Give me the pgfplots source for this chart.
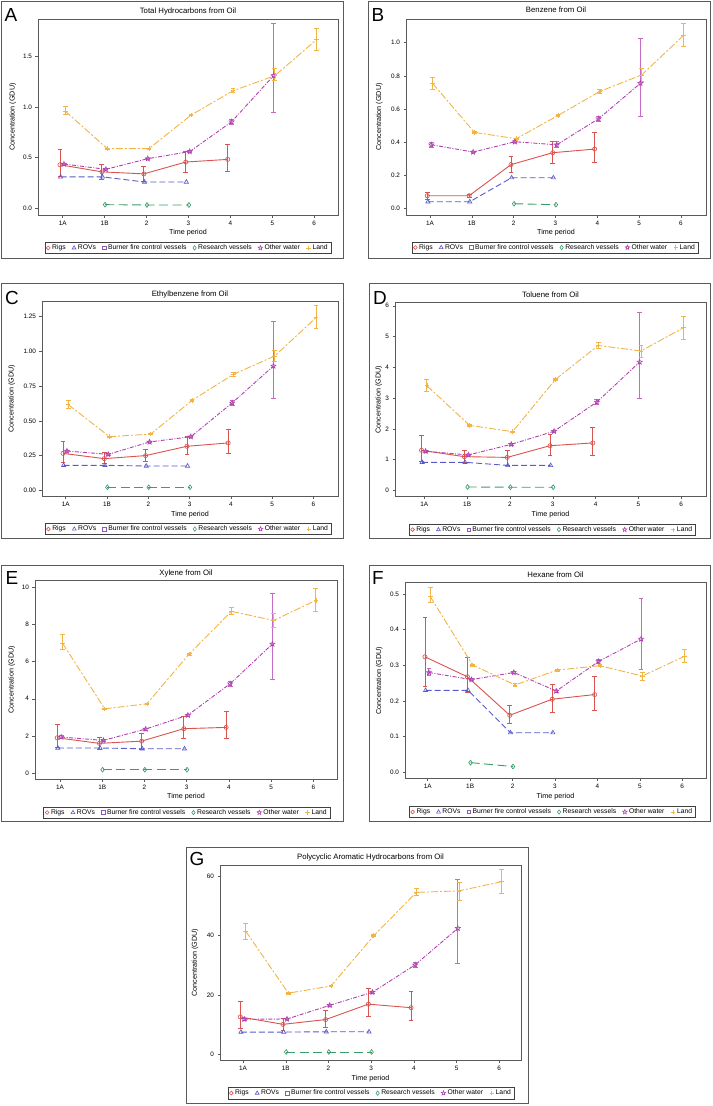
\documentclass[border=0pt]{standalone}
\usepackage{fontspec}
\setmainfont{Liberation Sans}
\usepackage{pgfplots}
\pgfplotsset{compat=1.18}
\usetikzlibrary{plotmarks}

\definecolor{cRigs}{HTML}{D9534F}
\definecolor{cROV}{HTML}{5A5AC8}
\definecolor{cBurn}{HTML}{8C5AB4}
\definecolor{cRes}{HTML}{3C9C6C}
\definecolor{cOth}{HTML}{B040B0}
\definecolor{cOthE}{HTML}{C46CC4}
\definecolor{cLand}{HTML}{F2B446}
\definecolor{cFrame}{HTML}{5A5A5A}

\pgfdeclareplotmark{ostar}{%
 \pgfpathmoveto{\pgfpointpolar{90}{\pgfplotmarksize}}%
 \pgfpathlineto{\pgfpointpolar{126}{0.45\pgfplotmarksize}}%
 \pgfpathlineto{\pgfpointpolar{162}{\pgfplotmarksize}}%
 \pgfpathlineto{\pgfpointpolar{198}{0.45\pgfplotmarksize}}%
 \pgfpathlineto{\pgfpointpolar{234}{\pgfplotmarksize}}%
 \pgfpathlineto{\pgfpointpolar{270}{0.45\pgfplotmarksize}}%
 \pgfpathlineto{\pgfpointpolar{306}{\pgfplotmarksize}}%
 \pgfpathlineto{\pgfpointpolar{342}{0.45\pgfplotmarksize}}%
 \pgfpathlineto{\pgfpointpolar{18}{\pgfplotmarksize}}%
 \pgfpathlineto{\pgfpointpolar{54}{0.45\pgfplotmarksize}}%
 \pgfpathclose\pgfusepathqstroke}

\newcommand{\tfont}{\fontsize{7.8}{9}\selectfont}
\newcommand{\lfont}{\fontsize{7.2}{8}\selectfont}
\newcommand{\Lfont}{\fontsize{19}{20}\selectfont}

\pgfplotsset{
  legend image code/.code={\draw[#1, only marks] plot coordinates {(2.6bp,0bp)};},
  table/errtab/.style={x expr=\thisrow{x}+#1, y=y, y error plus expr=\thisrow{hi}-\thisrow{y}, y error minus expr=\thisrow{y}-\thisrow{lo}, row sep=\\},
  table/plain/.style={x expr=\thisrow{x}+#1, y=y, row sep=\\},
  panel/.style={scale only axis, anchor=north west,
    axis line style={cFrame, line width=0.6bp},
    tick style={cFrame, line width=0.5bp},
    major tick length=2.5bp,
    tick align=outside, xtick pos=left, ytick pos=left,
    xtick={0,1,2,3,4,5,6}, xticklabels={1A,1B,2,3,4,5,6},
    tick label style={font=\fontsize{6.4}{7}\selectfont, text=black},
    legend columns=6, legend cell align=left,
    legend style={anchor=center, font=\fontsize{6.8}{7.5}\selectfont, draw=black!75, line width=0.5bp, inner xsep=1.5bp, inner ysep=0.5bp, /tikz/every even column/.append style={column sep=4.5bp}}},
  sRigs/.style={cRigs, line width=0.9bp, solid, mark=o, mark size=2.1bp, mark options={solid, line width=0.65bp}, forget plot,
    error bars/y dir=both, error bars/y explicit, error bars/error bar style={solid, line width=0.8bp},
    error bars/error mark options={solid, rotate=90, mark size=2.4bp, line width=0.8bp}},
  sROV/.style={cROV, line width=0.9bp, dash pattern=on 6bp off 3bp, mark=triangle, mark size=2.4bp, mark options={solid, line width=0.65bp}, forget plot},
  sRes/.style={cRes, line width=0.9bp, dash pattern=on 9bp off 4.5bp, mark=diamond, mark size=2.4bp, mark options={solid, line width=0.65bp}, forget plot},
  sOth/.style={cOth, line width=0.9bp, dash pattern=on 4bp off 1.5bp on 1bp off 1.5bp, mark=ostar, mark size=2.6bp, mark options={solid, line width=0.65bp}, forget plot,
    error bars/y dir=both, error bars/y explicit, error bars/error bar style={solid, cOthE, line width=1bp},
    error bars/error mark options={solid, rotate=90, cOthE, mark size=2.4bp, line width=0.9bp}},
  sLand/.style={cLand, line width=0.9bp, dash pattern=on 7bp off 2bp on 2bp off 2bp, mark=+, mark size=2.3bp, mark options={solid, line width=0.65bp}, forget plot,
    error bars/y dir=both, error bars/y explicit, error bars/error bar style={solid, line width=0.8bp},
    error bars/error mark options={solid, rotate=90, mark size=2.4bp, line width=0.8bp}},
}

\newcommand{\legendimages}{%
 \addlegendimage{cRigs, mark=o, mark size=1.9bp, line width=0.6bp}\addlegendentry{Rigs}
 \addlegendimage{cROV, mark=triangle, mark size=2.2bp, line width=0.6bp}\addlegendentry{ROVs}
 \addlegendimage{cBurn, mark=square, mark size=1.8bp, line width=0.6bp}\addlegendentry{Burner fire control vessels}
 \addlegendimage{cRes, mark=diamond, mark size=2.2bp, line width=0.6bp}\addlegendentry{Research vessels}
 \addlegendimage{cOth, mark=ostar, mark size=2.3bp, line width=0.6bp}\addlegendentry{Other water}
 \addlegendimage{cLand, mark=+, mark size=2.1bp, line width=0.6bp}\addlegendentry{Land}
}

\begin{document}
\begin{tikzpicture}
\useasboundingbox (0,0) rectangle (713bp,-1106bp);
\begin{scope}[cFrame, line width=0.7bp]
\draw (1bp,-1bp) rectangle (343bp,-258bp);
\draw (368bp,-1bp) rectangle (710bp,-258bp);
\draw (1bp,-283bp) rectangle (343bp,-538bp);
\draw (369bp,-283bp) rectangle (710bp,-538bp);
\draw (1bp,-565bp) rectangle (343bp,-821bp);
\draw (369bp,-565bp) rectangle (710bp,-821bp);
\draw (186bp,-847bp) rectangle (528bp,-1103bp);
\end{scope}

% ===== A =====
\begin{axis}[panel, at={(38bp,-19bp)}, width=300bp, height=196bp,
  xmin=-0.589, xmax=6.566, ymin=-0.066, ymax=1.869,
  ytick={0,0.5,1,1.5}, yticklabels={0.0,0.5,1.0,1.5},
  legend style={at={(0.5,-0.168)}}]
\legendimages
\addplot[sRigs] table[errtab=-0.065] {x y lo hi\\ 0 0.43 0.32 0.58\\ 1 0.36 0.29 0.435\\ 2 0.34 0.27 0.41\\ 3 0.457 0.35 0.566\\ 4 0.483 0.36 0.635\\};
\addplot[sROV] table[plain=-0.05] {x y\\ 0 0.31\\ 1 0.31\\ 2 0.26\\ 3 0.26\\};
\addplot[sRes] table[plain=0.01] {x y\\ 1 0.036\\ 2 0.033\\ 3 0.033\\};
\addplot[sOth] table[errtab=0.03] {x y lo hi\\ 0 0.437 0.43 0.445\\ 1 0.385 0.38 0.39\\ 2 0.49 0.485 0.495\\ 3 0.56 0.555 0.567\\ 4 0.855 0.83 0.88\\ 5 1.31 0.944 1.826\\};
\addplot[sLand] table[errtab=0.06] {x y lo hi\\ 0 0.96 0.93 1.01\\ 1 0.59 0.585 0.595\\ 2 0.59 0.585 0.595\\ 3 0.92 0.915 0.925\\ 4 1.16 1.145 1.18\\ 5 1.31 1.26 1.38\\ 6 1.667 1.556 1.78\\};
\end{axis}

% ===== B =====
\begin{axis}[panel, at={(406bp,-19bp)}, width=300bp, height=196bp,
  xmin=-0.574, xmax=6.598, ymin=-0.04, ymax=1.143,
  ytick={0,0.2,0.4,0.6,0.8,1.0}, yticklabels={0.0,0.2,0.4,0.6,0.8,1.0},
  legend style={at={(0.497,-0.166)}}]
\legendimages
\addplot[sRigs] table[errtab=-0.065] {x y lo hi\\ 0 0.0765 0.056 0.097\\ 1 0.0765 0.066 0.087\\ 2 0.264 0.217 0.312\\ 3 0.336 0.272 0.406\\ 4 0.358 0.276 0.457\\};
\addplot[sROV] table[plain=-0.05] {x y\\ 0 0.04\\ 1 0.04\\ 2 0.185\\ 3 0.185\\};
\addplot[sRes] table[plain=0.01] {x y\\ 2 0.028\\ 3 0.022\\};
\addplot[sOth] table[errtab=0.03] {x y lo hi\\ 0 0.384 0.37 0.397\\ 1 0.34 0.335 0.345\\ 2 0.402 0.397 0.407\\ 3 0.384 0.366 0.402\\ 4 0.541 0.527 0.555\\ 5 0.755 0.553 1.024\\};
\addplot[sLand] table[errtab=0.06] {x y lo hi\\ 0 0.755 0.72 0.79\\ 1 0.459 0.454 0.464\\ 2 0.42 0.415 0.425\\ 3 0.561 0.556 0.566\\ 4 0.706 0.694 0.718\\ 5 0.805 0.769 0.843\\ 6 1.044 0.976 1.117\\};
\end{axis}

% ===== C =====
\begin{axis}[panel, at={(42bp,-301.7bp)}, width=296bp, height=194.3bp,
  xmin=-0.574, xmax=6.593, ymin=-0.041, ymax=1.358,
  ytick={0,0.25,0.5,0.75,1,1.25}, yticklabels={0.00,0.25,0.50,0.75,1.00,1.25},
  legend style={at={(0.494,-0.17)}}]
\legendimages
\addplot[sRigs] table[errtab=-0.065] {x y lo hi\\ 0 0.266 0.2 0.355\\ 1 0.228 0.194 0.271\\ 2 0.25 0.206 0.293\\ 3 0.317 0.259 0.391\\ 4 0.341 0.266 0.437\\};
\addplot[sROV] table[plain=-0.05] {x y\\ 0 0.18\\ 1 0.18\\ 2 0.175\\ 3 0.175\\};
\addplot[sRes] table[plain=0.01] {x y\\ 1 0.022\\ 2 0.022\\ 3 0.022\\};
\addplot[sOth] table[errtab=0.03] {x y lo hi\\ 0 0.283 0.278 0.288\\ 1 0.259 0.254 0.264\\ 2 0.348 0.343 0.353\\ 3 0.386 0.381 0.391\\ 4 0.629 0.612 0.646\\ 5 0.895 0.66 1.216\\};
\addplot[sLand] table[errtab=0.06] {x y lo hi\\ 0 0.617 0.588 0.645\\ 1 0.386 0.381 0.391\\ 2 0.405 0.4 0.41\\ 3 0.648 0.643 0.653\\ 4 0.835 0.82 0.85\\ 5 0.967 0.926 1.008\\ 6 1.243 1.164 1.329\\};
\end{axis}

% ===== D =====
\begin{axis}[panel, at={(395bp,-302.7bp)}, width=311bp, height=193.6bp,
  xmin=-0.685, xmax=6.58, ymin=-0.195, ymax=6.10,
  ytick={0,1,2,3,4,5,6}, yticklabels={0,1,2,3,4,5,6},
  legend style={at={(0.506,-0.172)}}]
\legendimages
\addplot[sRigs] table[errtab=-0.065] {x y lo hi\\ 0 1.30 0.95 1.79\\ 1 1.094 0.9 1.31\\ 2 1.07 0.82 1.31\\ 3 1.45 1.12 1.82\\ 4 1.54 1.15 2.06\\};
\addplot[sROV] table[plain=-0.05] {x y\\ 0 0.91\\ 1 0.91\\ 2 0.81\\ 3 0.81\\};
\addplot[sRes] table[plain=0.01] {x y\\ 1 0.108\\ 2 0.1\\ 3 0.1\\};
\addplot[sOth] table[errtab=0.03] {x y lo hi\\ 0 1.27 1.23 1.31\\ 1 1.15 1.12 1.18\\ 2 1.495 1.47 1.52\\ 3 1.92 1.89 1.95\\ 4 2.87 2.8 2.96\\ 5 4.17 3.0 5.79\\};
\addplot[sLand] table[errtab=0.06] {x y lo hi\\ 0 3.40 3.23 3.6\\ 1 2.11 2.08 2.14\\ 2 1.907 1.88 1.93\\ 3 3.6 3.57 3.63\\ 4 4.71 4.61 4.81\\ 5 4.53 4.32 4.72\\ 6 5.29 4.91 5.67\\};
\end{axis}

% ===== E =====
\begin{axis}[panel, at={(35bp,-580.7bp)}, width=302bp, height=198.3bp,
  xmin=-0.59, xmax=6.56, ymin=-0.32, ymax=10.36,
  ytick={0,2,4,6,8,10}, yticklabels={0,2,4,6,8,10},
  legend style={at={(0.503,-0.169)}}]
\legendimages
\addplot[sRigs] table[errtab=-0.065] {x y lo hi\\ 0 1.90 1.40 2.64\\ 1 1.60 1.29 1.94\\ 2 1.72 1.29 2.15\\ 3 2.39 1.87 3.05\\ 4 2.46 1.87 3.30\\};
\addplot[sROV] table[plain=-0.05] {x y\\ 0 1.35\\ 1 1.35\\ 2 1.31\\ 3 1.31\\};
\addplot[sRes] table[plain=0.01] {x y\\ 1 0.18\\ 2 0.18\\ 3 0.18\\};
\addplot[sOth] table[errtab=0.03] {x y lo hi\\ 0 1.94 1.88 2.0\\ 1 1.76 1.7 1.82\\ 2 2.37 2.32 2.42\\ 3 3.12 3.07 3.17\\ 4 4.81 4.68 4.95\\ 5 6.95 5.03 9.68\\};
\addplot[sLand] table[errtab=0.06] {x y lo hi\\ 0 7.0 6.64 7.49\\ 1 3.46 3.42 3.5\\ 2 3.73 3.69 3.77\\ 3 6.41 6.36 6.46\\ 4 8.71 8.53 8.92\\ 5 8.22 7.85 8.62\\ 6 9.3 8.71 9.93\\};
\end{axis}

% ===== F =====
\begin{axis}[panel, at={(405bp,-582.7bp)}, width=301bp, height=195.6bp,
  xmin=-0.535, xmax=6.56, ymin=-0.017, ymax=0.532,
  ytick={0,0.1,0.2,0.3,0.4,0.5}, yticklabels={0.0,0.1,0.2,0.3,0.4,0.5},
  legend style={at={(0.49,-0.172)}}]
\legendimages
\addplot[sRigs] table[errtab=-0.065] {x y lo hi\\ 0 0.324 0.242 0.436\\ 1 0.268 0.225 0.323\\ 2 0.16 0.136 0.187\\ 3 0.205 0.169 0.246\\ 4 0.218 0.175 0.27\\};
\addplot[sROV] table[plain=-0.05] {x y\\ 0 0.23\\ 1 0.23\\ 2 0.111\\ 3 0.111\\};
\addplot[sRes] table[plain=0.01] {x y\\ 1 0.027\\ 2 0.016\\};
\addplot[sOth] table[errtab=0.03] {x y lo hi\\ 0 0.28 0.271 0.29\\ 1 0.26 0.257 0.263\\ 2 0.28 0.277 0.283\\ 3 0.228 0.225 0.231\\ 4 0.311 0.304 0.318\\ 5 0.374 0.288 0.489\\};
\addplot[sLand] table[errtab=0.06] {x y lo hi\\ 0 0.493 0.478 0.519\\ 1 0.301 0.298 0.304\\ 2 0.245 0.242 0.248\\ 3 0.287 0.284 0.29\\ 4 0.299 0.296 0.302\\ 5 0.27 0.259 0.279\\ 6 0.326 0.307 0.346\\};
\end{axis}

% ===== G =====
\begin{axis}[panel, at={(220bp,-865bp)}, width=301bp, height=195.3bp,
  xmin=-0.54, xmax=6.51, ymin=-2.0, ymax=63.7,
  ytick={0,20,40,60}, yticklabels={0,20,40,60},
  legend style={at={(0.502,-0.168)}}]
\legendimages
\addplot[sRigs] table[errtab=-0.065] {x y lo hi\\ 0 12.6 8.6 17.8\\ 1 10.1 8.2 12.1\\ 2 11.7 9.0 14.7\\ 3 16.9 12.8 22.2\\ 4 15.7 11.4 21.1\\};
\addplot[sROV] table[plain=-0.05] {x y\\ 0 7.5\\ 1 7.5\\ 2 7.6\\ 3 7.6\\};
\addplot[sRes] table[plain=0.01] {x y\\ 1 0.8\\ 2 0.8\\ 3 0.8\\};
\addplot[sOth] table[errtab=0.03] {x y lo hi\\ 0 11.8 11.5 12.1\\ 1 11.9 11.6 12.2\\ 2 16.5 16.2 16.8\\ 3 20.9 20.5 21.3\\ 4 30.1 29.2 31.0\\ 5 42.4 30.5 58.7\\};
\addplot[sLand] table[errtab=0.06] {x y lo hi\\ 0 41.5 38.8 44.1\\ 1 20.6 20.3 20.9\\ 2 23.0 22.7 23.3\\ 3 39.9 39.6 40.2\\ 4 54.5 53.6 55.8\\ 5 55.0 51.9 57.9\\ 6 58.1 54.2 62.2\\};
\end{axis}

% ===== titles =====
\node[font=\tfont] at (188bp,-11bp) {Total Hydrocarbons from Oil};
\node[font=\tfont] at (556bp,-10bp) {Benzene from Oil};
\node[font=\tfont] at (190bp,-294bp) {Ethylbenzene from Oil};
\node[font=\tfont] at (550.5bp,-295bp) {Toluene from Oil};
\node[font=\tfont] at (186bp,-573bp) {Xylene from Oil};
\node[font=\tfont] at (555.5bp,-575bp) {Hexane from Oil};
\node[font=\tfont] at (370.5bp,-857bp) {Polycyclic Aromatic Hydrocarbons from Oil};
% ===== y labels =====
\node[font=\lfont, rotate=90] at (12.7bp,-117bp) {Concentration (GDU)};
\node[font=\lfont, rotate=90] at (379.3bp,-117bp) {Concentration (GDU)};
\node[font=\lfont, rotate=90] at (11.7bp,-398.8bp) {Concentration (GDU)};
\node[font=\lfont, rotate=90] at (378.7bp,-399.5bp) {Concentration (GDU)};
\node[font=\lfont, rotate=90] at (11.7bp,-679.8bp) {Concentration (GDU)};
\node[font=\lfont, rotate=90] at (379.3bp,-680.5bp) {Concentration (GDU)};
\node[font=\lfont, rotate=90] at (195bp,-962.6bp) {Concentration (GDU)};
% ===== x labels =====
\node[font=\lfont] at (188bp,-233bp) {Time period};
\node[font=\lfont] at (556bp,-233bp) {Time period};
\node[font=\lfont] at (190bp,-515bp) {Time period};
\node[font=\lfont] at (550.5bp,-515bp) {Time period};
\node[font=\lfont] at (186bp,-797bp) {Time period};
\node[font=\lfont] at (555.5bp,-797bp) {Time period};
\node[font=\lfont] at (370.5bp,-1079bp) {Time period};
% ===== panel letters =====
\node[font=\Lfont] at (11bp,-15bp) {A};
\node[font=\Lfont] at (378bp,-15bp) {B};
\node[font=\Lfont] at (12bp,-298bp) {C};
\node[font=\Lfont] at (380bp,-298bp) {D};
\node[font=\Lfont] at (12bp,-578bp) {E};
\node[font=\Lfont] at (378bp,-578bp) {F};
\node[font=\Lfont] at (197bp,-859bp) {G};
\end{tikzpicture}
\end{document}
